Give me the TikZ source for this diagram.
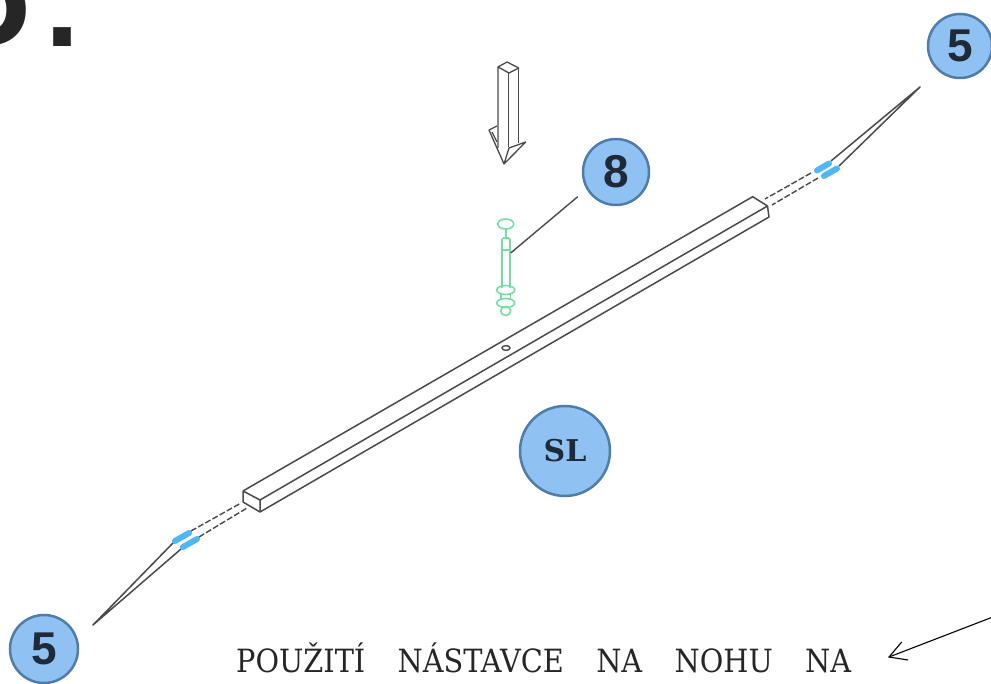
\documentclass[tikz,border=0pt]{standalone}
\usepackage{fontspec}
\setmainfont{DejaVu Serif}
\newfontfamily\capfont{DejaVu Serif Condensed}
\newfontfamily\bigfont{DejaVu Sans}
\newfontfamily\digitfont{Liberation Sans}
\definecolor{badgefill}{HTML}{8FC1F3}
\definecolor{badgeedge}{HTML}{4F7CA8}
\definecolor{badgeink}{HTML}{1E2A38}
\definecolor{pin}{HTML}{72E0A4}
\definecolor{steel}{HTML}{4A4A4A}
\definecolor{sleeve}{HTML}{4DB8F5}
\tikzset{
  badge/.style={circle,draw=badgeedge,line width=2.5pt,fill=badgefill,text=badgeink,inner sep=0pt},
  beamline/.style={draw=steel,line width=1.5pt,line join=round},
  dashline/.style={draw=steel,line width=1.4pt,dash pattern=on 6pt off 2.2pt},
  sleeveline/.style={draw=sleeve,line width=6pt,line cap=round},
  pinline/.style={draw=pin,line width=1.6pt},
  arrowline/.style={draw=steel,line width=1.3pt,line join=round},
}
\begin{document}
\begin{tikzpicture}[x=1pt,y=-1pt]
\useasboundingbox (0,0) rectangle (991,684);
\begin{scope}
\clip (0,0) rectangle (991,684);
% heading fragment
\node[anchor=base east,inner sep=0pt,font=\bigfont\bfseries\fontsize{100}{100}\selectfont,text=black!85] (heading) at (82,47) {D\kern12pt.};
% beam
\coordinate (ba) at (752.7,196.7);
\coordinate (bb) at (767.5,206);
\coordinate (bc) at (769,217);
\coordinate (la) at (243,491);
\coordinate (lb) at (260,500);
\coordinate (lc) at (260,512);
\coordinate (ld) at (243,502);
\draw[beamline] (la) -- (ba) -- (bb) -- (bc) -- (lc) -- (lb) -- (bb);
\draw[beamline] (la) -- (lb) (lc) -- (ld) -- (la);
\draw[steel,line width=1.4pt] (506,348) ellipse (4 and 2.4);
% lower spike
\coordinate (st) at (93,625);
\coordinate (su) at (173,543);
\coordinate (sv) at (181,549);
\draw[beamline] (su) -- (st) -- (sv);
\draw[sleeveline] (175,541) -- (189,533);
\draw[sleeveline] (183,547) -- (197,539);
\draw[dashline] (191,531) -- (241,503);
\draw[dashline] (199,537) -- (247,508);
% upper spike
\coordinate (ut) at (920,87);
\coordinate (uu) at (831,161);
\coordinate (uv) at (839,166);
\draw[beamline] (uu) -- (ut) -- (uv);
\draw[sleeveline] (817,170.5) -- (829,163.5);
\draw[sleeveline] (824,176) -- (837,168.5);
\draw[dashline] (811,173) -- (765,199);
\draw[dashline] (818,178) -- (772,205);
% arrow
\draw[arrowline] (498,148) -- (498,67) -- (507,62) -- (518.7,68) -- (509,73) -- (498,67);
\draw[arrowline] (508.5,73) -- (508.5,147);
\draw[arrowline] (518.7,68) -- (518.7,143);
\draw[arrowline] (497,126) -- (489,130) -- (504,164) -- (525.7,142) -- (509,148) -- (504,164);
\draw[arrowline] (492,132) -- (497,142);
% pin
\draw[pinline] (505.7,224) ellipse (8 and 5);
\draw[pinline] (505.7,229) -- (505.7,238);
\draw[pinline,rounded corners=1.5pt] (502,238) rectangle (510,250);
\draw[pinline] (501.7,243) -- (501.7,288) (510,243) -- (510,288);
\draw[pinline] (505.7,290) ellipse (9 and 4.5);
\draw[pinline] (505.7,303) ellipse (9 and 4.5);
\draw[pinline] (505.7,311) ellipse (5 and 4.5);
\draw[pinline] (501,294) -- (501,300) (510.5,294) -- (510.5,300);
% badges
\node[badge,minimum size=66pt,font=\digitfont\bfseries\fontsize{46}{46}\selectfont] (b8) at (616,172) {8};
\node[badge,minimum size=64pt,font=\digitfont\bfseries\fontsize{46}{46}\selectfont] (b5t) at (960,46) {5};
\node[badge,minimum size=68pt,font=\digitfont\bfseries\fontsize{46}{46}\selectfont] (b5b) at (44,649) {5};
\node[badge,minimum size=90pt,font=\bfseries\fontsize{30}{30}\selectfont] (bsl) at (565,451) {SL};
\coordinate (pinpt) at (510.7,253);
\draw[steel,line width=1.4pt] (577.7,196.7) -- (pinpt);
% caption
\node[anchor=base west,inner sep=0pt,text width=615pt,font=\capfont\fontsize{32}{32}\selectfont,text=black!85] (cap) at (236,672) {POUŽITÍ\hfill NÁSTAVCE\hfill NA\hfill NOHU\hfill NA};
% long arrow
\coordinate (tipa) at (889,657);
\coordinate (tail) at (991,617.7);
\draw[black,line width=1.1pt] (tail) -- (tipa);
\draw[black,line width=1.1pt] (901.7,642) -- (tipa) -- (908,660);
\end{scope}
\end{tikzpicture}
\end{document}
